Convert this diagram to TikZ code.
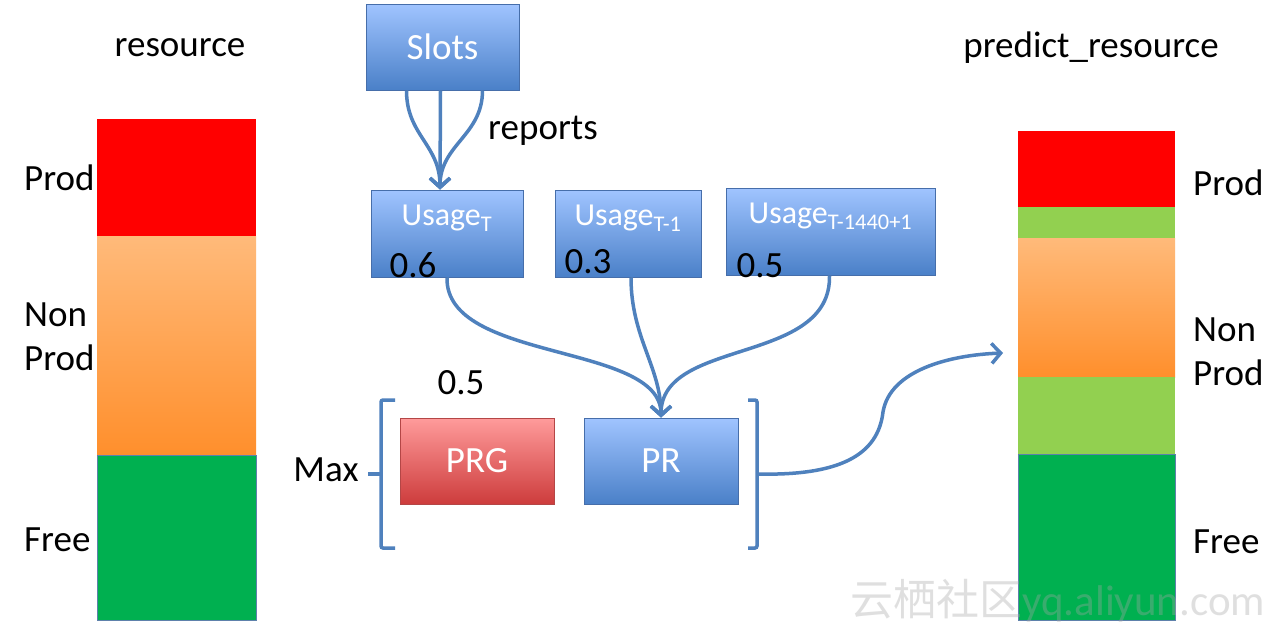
\documentclass[tikz,border=0pt]{standalone}
\usepackage{fontspec}
\setmainfont{Carlito}
\newfontfamily\cjkfont{Noto Sans CJK SC}
\usetikzlibrary{arrows.meta,calc}
\definecolor{lnblue}{RGB}{79,129,189}
\definecolor{btop}{RGB}{160,196,255}
\definecolor{bbot}{RGB}{74,128,200}
\definecolor{bborder}{RGB}{70,110,170}
\definecolor{rtop}{RGB}{255,155,155}
\definecolor{rbot}{RGB}{205,60,60}
\definecolor{rborder}{RGB}{180,70,70}
\definecolor{otop}{RGB}{255,186,122}
\definecolor{obot}{RGB}{255,143,44}
\definecolor{lgreen}{RGB}{146,208,80}
\definecolor{dgreen}{RGB}{0,176,80}
\definecolor{pred}{RGB}{255,0,0}
\tikzset{
  x=1pt, y=-1pt,
  lbl/.style={font=\fontsize{37}{44}\selectfont, text=black, inner sep=0pt},
  bbox/.style={rectangle, draw=bborder, line width=1pt, top color=btop, bottom color=bbot, text=white, inner sep=0pt},
  rbox/.style={rectangle, draw=rborder, line width=1pt, top color=rtop, bottom color=rbot, text=white, inner sep=0pt},
  conn/.style={draw=lnblue, line width=3.5pt, -{Straight Barb[length=9pt,width=20pt,line width=3.5pt]}},
  brk/.style={draw=lnblue, line width=3.5pt, rounded corners=2pt},
}
\begin{document}
\begin{tikzpicture}
\useasboundingbox (0,0) rectangle (1286,632);
\fill[white] (0,0) rectangle (1286,632);

% left bar
\fill[pred] (97,119) rectangle (256,236);
\shade[top color=otop, bottom color=obot] (97,236) rectangle (256,455);
\fill[dgreen] (97,455) rectangle (256,620);
\draw[lnblue!70!gray, line width=1pt] (97,455) rectangle (256,620);

% right bar
\fill[pred] (1018,131) rectangle (1175,207);
\fill[lgreen] (1018,207) rectangle (1175,238);
\shade[top color=otop, bottom color=obot] (1018,238) rectangle (1175,377);
\fill[lgreen] (1018,377) rectangle (1175,454);
\fill[dgreen] (1018,454) rectangle (1175,620);
\draw[lnblue!70!gray, line width=1pt] (1018,454) rectangle (1175,620);

% watermark
\node[anchor=west, inner sep=0pt, text=black!35, opacity=0.35, font=\fontsize{43}{46}\selectfont] (wm) at (850,601) {{\cjkfont 云栖社区}yq.aliyun.com};

% labels
\node[lbl] (tres) at (180,48) {resource};
\node[lbl] (tpres) at (1091,48) {predict\_resource};
\node[lbl, anchor=west] (lprod) at (24,178) {Prod};
\node[lbl, anchor=west, align=left] (lnon) at (24,337) {Non\\Prod};
\node[lbl, anchor=west] (lfree) at (24,540) {Free};
\node[lbl, anchor=west] (rprod) at (1193,183) {Prod};
\node[lbl, anchor=west, align=left] (rnon) at (1193,352) {Non\\Prod};
\node[lbl, anchor=west] (rfree) at (1193,542) {Free};

% boxes
\node[bbox, minimum width=153pt, minimum height=86pt, font=\fontsize{37}{40}\selectfont] (slots) at (442.5,47) {Slots};
\node[bbox, minimum width=152pt, minimum height=87pt] (u1) at (447,233.5) {};
\node[bbox, minimum width=146pt, minimum height=87pt] (u2) at (628,233.5) {};
\node[bbox, minimum width=209pt, minimum height=87pt] (u3) at (830.5,231.5) {};
\node[inner sep=0pt, text=white, font=\fontsize{32}{36}\selectfont] (u1t) at (447,218) {Usage\textsubscript{T}};
\node[inner sep=0pt, text=white, font=\fontsize{32}{36}\selectfont] (u2t) at (628,218) {Usage\textsubscript{T-1}};
\node[inner sep=0pt, text=white, font=\fontsize{32}{36}\selectfont] (u3t) at (830.5,216) {Usage\textsubscript{T-1440+1}};
\node[lbl] (w1) at (413,265) {0.6};
\node[lbl] (w2) at (588,262) {0.3};
\node[lbl] (w3) at (760,266) {0.5};

\node[rbox, minimum width=154pt, minimum height=86pt, font=\fontsize{37}{40}\selectfont] (prg) at (477,461) {PRG};
\node[bbox, minimum width=154pt, minimum height=86pt, font=\fontsize{37}{40}\selectfont] (pr) at (661,461) {PR};
\node[lbl] (w4) at (461,383) {0.5};
\node[lbl] (reports) at (543,131) {reports};
\node[lbl] (max) at (326,470) {Max};

% brackets
\draw[brk] (395,400) -- (381,400) -- (381,548) -- (395,548);
\draw[brk] (381,474) -- (368,474);
\draw[brk] (748,400) -- (757,400) -- (757,548) -- (748,548);
\coordinate (rb) at (757,474);
\coordinate (tipR) at (1003,353);

% slots -> usage
\draw[conn] ([xshift=-36pt]slots.south) .. controls ++(0,45) and ++(0,-45) .. ([xshift=-7pt]u1.north);
\draw[conn] ([xshift=-2pt]slots.south) -- ([xshift=-7pt]u1.north);
\draw[conn] ([xshift=40pt]slots.south) .. controls ++(0,45) and ++(0,-45) .. ([xshift=-7pt]u1.north);

% usage -> PR
\draw[conn] (u1.south) .. controls ++(-2,85) and ++(0,-75) .. (pr.north);
\draw[conn] ([xshift=3pt]u2.south) .. controls ++(0,60) and ++(0,-50) .. (pr.north);
\draw[conn] ([xshift=-1pt]u3.south) .. controls ++(2,90) and ++(0,-80) .. (pr.north);

% bracket -> predict
\draw[conn] (rb) .. controls (840,476) and (878,455) .. (883,412) .. controls (890,370) and (950,355) .. (tipR);
\end{tikzpicture}
\end{document}
